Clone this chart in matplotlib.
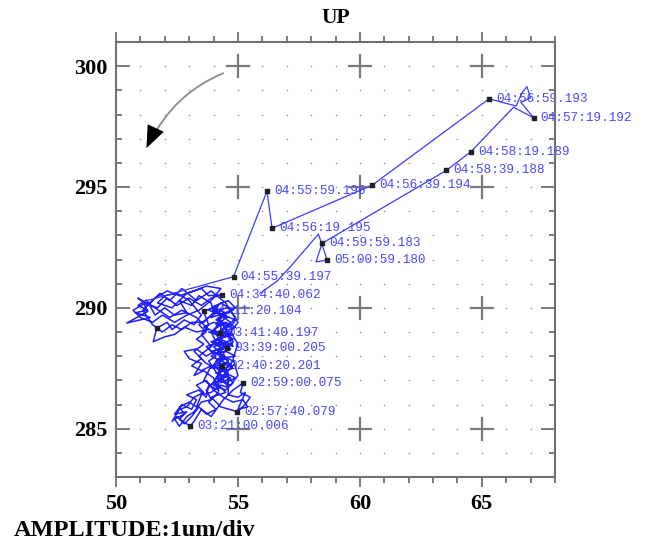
import matplotlib
matplotlib.use("Agg")
import matplotlib.pyplot as plt
import numpy as np
from matplotlib.ticker import MultipleLocator
from matplotlib.patches import FancyArrowPatch

# ---- data ----
# tangle section (02:40 -> 04:55), hand-traced
tangle_x = [54.34,
            54.6, 54.2, 54.7, 54.3, 54.8, 54.4, 54.9, 54.5, 54.1, 54.4, 54.8, 54.3, 54.0, 54.5, 54.0, 54.5, 53.9,
            54.4, 53.9, 54.3, 54.8, 54.5, 54.9, 54.5, 54.1, 54.4,
            54.0, 53.7, 53.9, 53.5, 53.2, 52.9, 52.6, 52.4, 52.8, 52.6, 53.0, 53.3, 53.5, 53.9, 54.3, 54.6, 54.3,
            54.3, 54.7, 54.1, 54.8, 54.4, 53.9, 54.2, 54.9, 54.5, 54.0, 53.7, 54.3, 54.8, 54.6, 54.1, 53.6, 54.0,
            54.7, 54.9, 54.4, 53.8, 54.1, 54.6, 54.9,
            54.5, 54.2, 54.6, 54.3, 54.7, 54.2, 54.5, 54.1, 54.6, 54.3, 54.0, 54.5, 54.8, 54.4, 54.8, 54.4, 54.0,
            54.4, 54.1, 54.5, 54.2, 54.6, 54.3,
            53.8, 53.4, 53.7, 53.3, 53.6, 53.2, 53.5, 53.1, 53.5, 53.9, 53.6, 53.9, 54.2, 53.8, 54.1, 53.8, 54.1,
            53.9, 54.3,
            54.2, 53.8, 54.1, 53.7, 53.4, 53.1, 52.8, 52.5, 52.3, 52.6, 52.9, 53.2, 53.6, 53.3, 53.7, 54.0, 54.4,
            54.8, 55.2, 55.4, 55.0, 55.3, 55.0, 54.6,
            54.6, 54.1, 54.5, 53.9, 54.3, 54.96, 55.3, 55.5, 55.1, 55.22, 54.8, 54.4, 53.9, 53.5, 53.2, 53.04,
            52.6, 52.9, 52.4, 52.7, 53.1, 53.3, 52.9, 53.4, 53.7, 53.8, 54.2, 54.0, 53.6, 53.2, 53.5, 53.0, 52.8,
            53.3, 53.7, 54.2, 54.55, 54.0, 54.4, 53.8, 54.27, 54.6, 54.1, 54.5, 53.9, 54.2, 53.59, 53.8, 53.5,
            53.9, 53.4, 53.7, 54.3, 54.7, 54.4, 54.8, 54.5, 54.9, 54.6, 54.0, 54.7, 54.2, 54.8, 54.1, 54.6, 53.9,
            54.5, 54.0, 54.6, 54.2, 54.7, 55.0, 54.8, 55.0, 54.7, 55.0, 54.5, 53.9, 53.3, 52.7, 52.2, 51.8, 51.3,
            50.9, 51.6, 52.2, 52.7, 53.3, 53.8, 53.3, 52.8, 52.4, 52.0, 51.53, 51.67, 52.1, 52.3, 52.8, 53.2,
            53.5, 53.0, 52.5, 52.0, 51.7, 52.3, 52.9, 53.5, 53.8, 54.34,
            53.9, 53.5, 53.0, 52.5, 52.1, 51.7, 51.2, 50.7, 51.0, 51.5, 51.9, 52.4, 52.9, 53.4, 53.9, 54.3, 53.7,
            53.2, 52.6, 52.1, 51.6, 51.1, 51.5, 51.9, 52.3, 52.7, 53.1, 53.6, 54.0,
            53.9, 53.4, 53.1, 52.6, 52.9, 52.4, 52.0, 51.6, 51.26, 50.9, 51.3, 50.8, 51.4, 50.44, 51.3, 51.1]
tangle_y = [287.58,
            287.8, 288.1, 288.3, 288.5, 288.7, 289.0, 289.2, 289.4, 289.3, 289.7, 289.9, 290.2, 290.0, 289.6,
            289.1, 288.8, 288.6, 288.3, 288.0, 287.8, 287.6, 287.3, 287.1, 286.9, 287.1, 287.5,
            286.9, 286.6, 286.2, 286.1, 285.7, 285.5, 285.1, 285.4, 285.6, 285.9, 286.1, 285.9, 286.4, 286.5,
            286.8, 286.7, 287.2,
            286.9, 287.1, 287.3, 287.5, 287.7, 287.5, 287.9, 288.0, 288.2, 288.1, 288.4, 288.6, 288.4, 288.8,
            289.0, 289.2, 289.4, 289.2, 289.5, 289.7, 289.9, 290.1, 290.3, 290.0,
            289.8, 289.5, 289.0, 288.7, 288.5, 288.2, 287.9, 287.8, 287.4, 287.1, 286.8, 286.6, 286.9, 287.4,
            287.8, 288.0, 288.4, 288.5, 288.9, 289.2, 289.6, 289.6, 289.9,
            289.6, 289.3, 289.0, 288.7, 288.5, 288.2, 287.9, 287.6, 287.4, 287.6, 287.0, 286.8, 287.2, 287.8,
            288.0, 288.3, 288.6, 289.0, 289.3,
            286.5, 286.1, 285.8, 285.6, 285.9, 285.5, 285.2, 285.5, 285.3, 285.8, 285.9, 286.3, 286.5, 286.8,
            287.0, 286.6, 286.3, 286.1, 286.2, 285.9, 285.8, 286.5, 286.3, 286.4,
            287.2, 286.9, 286.5, 286.3, 285.9, 285.71, 286.0, 286.3, 286.5, 286.9, 286.6, 286.2, 285.5, 285.8,
            285.3, 285.1, 285.4, 285.7, 285.6, 286.0, 285.8, 286.2, 286.4, 286.6, 286.3, 286.8, 286.6, 287.1,
            287.4, 287.2, 287.7, 287.9, 288.2, 288.3, 288.0, 288.3, 288.33, 288.6, 288.8, 289.0, 288.95, 289.3,
            289.5, 289.8, 289.6, 290.1, 289.85, 289.3, 288.9, 288.4, 288.0, 287.7, 287.4, 287.6, 288.1, 288.6,
            289.1, 289.6, 290.0, 289.9, 289.4, 289.0, 288.9, 288.7, 288.4, 288.2, 287.9, 287.6, 287.3, 287.0,
            286.8, 287.2, 287.9, 288.5, 289.0, 289.4, 290.2, 290.7, 290.3, 290.8, 290.3, 290.6, 290.1, 290.4,
            290.0, 289.6, 289.9, 289.6, 289.1, 289.0, 289.2, 288.9, 288.8, 288.6, 289.16, 289.4, 289.1, 289.5,
            289.3, 289.7, 290.3, 290.6, 290.5, 290.2, 290.0, 290.6, 290.8, 290.5, 290.54,
            290.4, 290.1, 290.4, 290.1, 290.4, 290.0, 290.2, 289.9, 289.6, 289.4, 289.7, 289.4, 289.7, 289.9,
            290.3, 290.8, 290.9, 290.7, 290.5, 290.7, 290.4, 289.9, 289.3, 289.0, 289.3, 289.1, 289.4, 289.4,
            289.8,
            290.2, 290.5, 290.1, 290.3, 289.8, 289.7, 290.0, 289.7, 290.33, 290.1, 289.9, 289.8, 289.6, 289.37,
            289.85, 290.25]
# later section (04:55:39 -> 05:00:59)
path_x = [51.1, 54.82, 56.19, 56.40, 60.51, 65.30, 66.4, 66.65, 66.85, 67.0, 66.6, 67.13, 66.3, 64.55, 63.55,
          58.45, 58.2, 58.66, 58.3, 57.15, 56.6, 55.9]
path_y = [290.25, 291.29, 294.83, 293.29, 295.08, 298.65, 298.35, 298.9, 299.15, 298.7, 298.5, 297.86, 298.3,
          296.46, 295.69, 292.67, 291.9, 291.98, 293.05, 291.7, 291.1, 290.6]

mark_x = [65.30, 67.13, 64.55, 63.55, 56.19, 60.51, 56.40, 58.45, 58.66, 54.82, 54.34, 53.59, 54.27, 54.55,
          54.34, 55.22, 54.96, 53.04, 51.67]
mark_y = [298.65, 297.86, 296.46, 295.69, 294.83, 295.08, 293.29, 292.67, 291.98, 291.29, 290.54, 289.85,
          288.95, 288.33, 287.58, 286.9, 285.71, 285.1, 289.16]
mark_labels = ["04:56:59.193", "04:57:19.192", "04:58:19.189", "04:58:39.188", "04:55:59.196",
               "04:56:39.194", "04:56:19.195", "04:59:59.183", "05:00:59.180", "04:55:39.197",
               "04:34:40.062", "04:11:20.104", "03:41:40.197", "03:39:00.205", "02:40:20.201",
               "02:59:00.075", "02:57:40.079", "03:21:00.006", ""]

x_ticks = [50, 55, 60, 65]
y_ticks = [285, 290, 295, 300]
title = "UP"
note = "AMPLITUDE:1um/div"

# ---- figure ----
fig = plt.figure(figsize=(6.5, 5.47), dpi=100)
ax = fig.add_axes([116/650, 1-477/547, (555-116)/650, (477-42)/547])
ax.set_xlim(50, 68)
ax.set_ylim(283, 301)

gray = "#707070"
gx, gy = np.meshgrid(np.arange(51, 68), np.arange(284, 301))
ax.scatter(gx.ravel(), gy.ravel(), s=1.3, color="#999999", linewidths=0, zorder=1)
for cx in x_ticks[1:]:
    for cy in y_ticks:
        ax.plot([cx-0.45, cx+0.45], [cy, cy], color="#7a7a7a", lw=1.6, zorder=1)
        ax.plot([cx, cx], [cy-0.45, cy+0.45], color="#7a7a7a", lw=1.6, zorder=1)

ax.plot(tangle_x, tangle_y, color="#2020ff", lw=1.1, zorder=3)
ax.plot(path_x, path_y, color="#3a3aff", lw=0.9, zorder=3)
ax.scatter(mark_x, mark_y, marker="s", s=9, color="#202020", zorder=4)
for x, y, t in zip(mark_x, mark_y, mark_labels):
    if t:
        ax.annotate(t, (x, y), xytext=(5, 0), textcoords="offset points", va="center", ha="left",
                    fontsize=9.2, family="Liberation Mono", color="#4848ff", zorder=2)

# arrow: gray shaft, black head
shaft = FancyArrowPatch((54.5, 299.75), (51.35, 296.75), connectionstyle="arc3,rad=0.2",
                        arrowstyle="-", color="#8a8a8a", lw=1.3, zorder=5)
head = FancyArrowPatch((54.5, 299.75), (51.2, 296.5), connectionstyle="arc3,rad=0.2",
                       arrowstyle="-|>,head_length=1.0,head_width=0.4", mutation_scale=16,
                       edgecolor="black", facecolor="black", lw=0.0, zorder=6)
ax.add_patch(shaft)
ax.add_patch(head)

ax.set_xticks(x_ticks)
ax.set_yticks(y_ticks)
ax.xaxis.set_minor_locator(MultipleLocator(1))
ax.yaxis.set_minor_locator(MultipleLocator(1))
for s in ax.spines.values():
    s.set_color(gray)
    s.set_linewidth(1.5)
ax.tick_params(axis="x", which="both", direction="out", top=True, bottom=True, labeltop=False, color=gray, width=1.3)
ax.tick_params(axis="x", which="major", length=7.5, pad=5)
ax.tick_params(axis="x", which="minor", length=4)
ax.tick_params(axis="y", which="both", direction="in", left=True, right=True, color=gray, width=1.3)
ax.tick_params(axis="y", which="major", length=10, pad=6)
ax.tick_params(axis="y", which="minor", length=4.5)
for lab in ax.get_xticklabels() + ax.get_yticklabels():
    lab.set_family("Liberation Serif")
    lab.set_fontweight("bold")
    lab.set_fontsize(16)

fig.text(336/650, 1-18/547, title, ha="center", va="center", family="Liberation Serif",
         fontweight="bold", fontsize=15.5)
fig.text(14/650, 1-530/547, note, ha="left", va="center", family="Liberation Serif",
         fontweight="bold", fontsize=17.5)

fig.savefig("out.png", dpi=100)
